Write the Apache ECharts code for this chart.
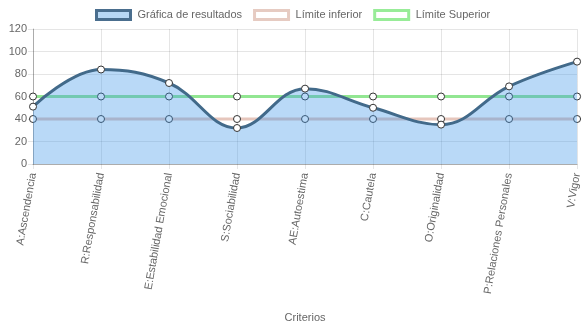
<!DOCTYPE html>
<html>
<head>
<meta charset="utf-8">
<script src="https://cdn.jsdelivr.net/npm/echarts@6/dist/echarts.min.js"></script>
<style>
  html, body { margin: 0; padding: 0; background: #fff; }
  #chart { width: 583px; height: 328px; }
</style>
</head>
<body>
<div id="chart"></div>
<script>
// Criteria evaluated along the x axis
const categories = [
  'A:Ascendencia', 'R:Responsabilidad', 'E:Estabilidad Emocional', 'S:Sociabilidad',
  'AE:Autoestima', 'C:Cautela', 'O:Originalidad', 'P:Relaciones Personales', 'V:Vigor'
];
// Scores per criterion
const resultados = [51, 84, 72, 32, 67, 50, 35, 69, 91];
// Lower and upper reference limits
const limiteInferior = [40, 40, 40, 40, 40, 40, 40, 40, 40];
const limiteSuperior = [60, 60, 60, 60, 60, 60, 60, 60, 60];
// Value axis range
const yMin = 0, yMax = 120, yStep = 20;

const FONT = 'Liberation Sans, Arial, Helvetica, sans-serif';
const TXT = '#666';
const FS = 11;

const chart = echarts.init(document.getElementById('chart'));
const pointStyle = { color: '#fff', borderColor: '#333', borderWidth: 1 };

chart.setOption({
  animation: false,
  textStyle: { fontFamily: FONT },
  legend: {
    left: 90, top: 4,
    itemWidth: 34, itemHeight: 9, itemGap: 11,
    icon: 'rect',
    textStyle: { color: TXT, fontSize: FS, fontFamily: FONT, padding: [0, 0, 0, 2] },
    data: [
      { name: 'Gráfica de resultados', itemStyle: { color: '#b8d8f5', borderColor: '#4a6e8e', borderWidth: 3 } },
      { name: 'Límite inferior', itemStyle: { color: '#fff', borderColor: '#e6cbc2', borderWidth: 3 } },
      { name: 'Límite Superior', itemStyle: { color: '#fff', borderColor: '#98ec98', borderWidth: 3 } }
    ]
  },
  grid: { left: 33, right: 3, top: 29, height: 135 },
  xAxis: {
    type: 'category',
    data: categories,
    boundaryGap: false,
    name: 'Criterios',
    nameLocation: 'middle',
    nameGap: 148,
    nameTextStyle: { color: TXT, fontSize: FS, fontFamily: FONT },
    axisLine: { lineStyle: { color: 'rgba(0,0,0,0.25)' } },
    axisTick: { show: true, length: 5, lineStyle: { color: 'rgba(0,0,0,0.1)' } },
    axisLabel: { rotate: 80, color: TXT, fontSize: FS, fontFamily: FONT, margin: 9, interval: 0 },
    splitLine: { show: true, lineStyle: { color: 'rgba(0,0,0,0.1)' } }
  },
  yAxis: {
    type: 'value',
    min: yMin, max: yMax, interval: yStep,
    axisLine: { show: true, lineStyle: { color: 'rgba(0,0,0,0.25)' } },
    axisTick: { show: true, length: 5, lineStyle: { color: 'rgba(0,0,0,0.1)' } },
    axisLabel: { color: TXT, fontSize: FS, fontFamily: FONT, margin: 6 },
    splitLine: { show: true, lineStyle: { color: 'rgba(0,0,0,0.1)' } }
  },
  series: [
    {
      name: 'Límite inferior', type: 'line', data: limiteInferior, z: 2,
      symbol: 'circle', symbolSize: 7, itemStyle: pointStyle,
      lineStyle: { color: '#e6c6bc', width: 3 }
    },
    {
      name: 'Límite Superior', type: 'line', data: limiteSuperior, z: 2,
      symbol: 'circle', symbolSize: 7, itemStyle: pointStyle,
      lineStyle: { color: '#92e692', width: 3 }
    },
    {
      name: 'Gráfica de resultados', type: 'line', data: resultados, z: 5,
      smooth: 0.4,
      symbol: 'circle', symbolSize: 7, itemStyle: pointStyle,
      lineStyle: { color: '#426a8a', width: 3 },
      areaStyle: { color: 'rgba(60,150,232,0.36)', opacity: 1 }
    }
  ]
});
</script>
</body>
</html>
